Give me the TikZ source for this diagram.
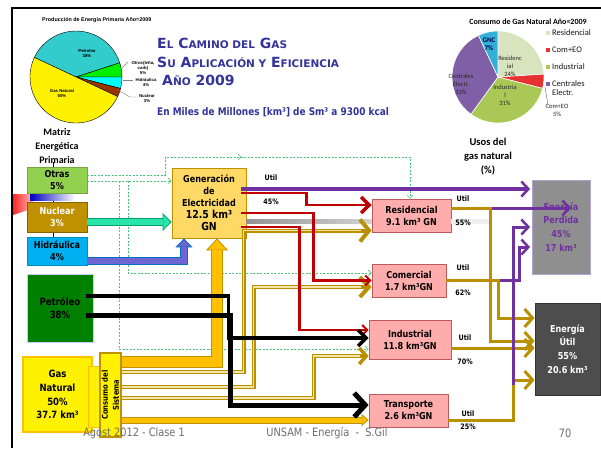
\documentclass[tikz,border=0pt]{standalone}
\usepackage{fontspec}
\setmainfont{DejaVu Sans}[FakeStretch=0.85]
\newfontfamily\ttlfont{DejaVu Sans}
\newfontfamily\calfont{Carlito}
\newfontfamily\arlfont{Liberation Sans}
\usetikzlibrary{arrows.meta,decorations.markings}

\definecolor{ttlblue}{RGB}{51,51,153}
\definecolor{otrc}{RGB}{146,208,80}
\definecolor{nucc}{RGB}{191,144,0}
\definecolor{hidfill}{RGB}{0,176,240}
\definecolor{petc}{RGB}{0,128,0}
\definecolor{genc}{RGB}{255,217,102}
\definecolor{pinkc}{RGB}{255,172,172}
\definecolor{pinkb}{RGB}{192,90,90}
\definecolor{perdc}{RGB}{143,143,143}
\definecolor{perdb}{RGB}{180,162,210}
\definecolor{utilc}{RGB}{77,77,77}
\definecolor{goldc}{RGB}{185,145,0}
\definecolor{goldl}{RGB}{242,228,170}
\definecolor{purp}{RGB}{112,48,160}
\definecolor{redc}{RGB}{192,0,0}
\definecolor{orangec}{RGB}{255,192,0}
\definecolor{orangeb}{RGB}{191,144,0}
\definecolor{mint}{RGB}{40,230,170}
\definecolor{mintd}{RGB}{0,160,110}
\definecolor{hidc}{RGB}{110,100,210}
\definecolor{hidb}{RGB}{0,112,192}
\definecolor{dashc}{RGB}{70,200,120}
\definecolor{footg}{RGB}{110,110,110}
\definecolor{pteal}{RGB}{51,204,204}
\definecolor{pgreen}{RGB}{0,238,0}
\definecolor{pcyan}{RGB}{0,255,255}
\definecolor{pbrown}{RGB}{153,51,0}
\definecolor{cres}{RGB}{215,228,189}
\definecolor{ccom}{RGB}{230,50,50}
\definecolor{cind}{RGB}{170,200,85}
\definecolor{ccen}{RGB}{127,95,165}
\definecolor{cgnc}{RGB}{51,175,216}

\newcommand\smc[1]{{\fontsize{10.5}{12}\selectfont #1}}

\begin{document}
\begin{tikzpicture}[x=1pt, y=-1pt,
  src/.style={draw, line width=0.8pt, inner sep=0pt, align=center,
              font=\fontsize{9.5}{12}\selectfont\bfseries},
  user/.style={draw=pinkb, fill=pinkc, line width=0.8pt, inner sep=0pt,
               align=center, font=\fontsize{9.5}{12}\selectfont\bfseries},
  sink/.style={line width=0.8pt, inner sep=0pt, align=center,
               font=\fontsize{9.5}{13.8}\selectfont\bfseries},
  lbl/.style={font=\fontsize{7.5}{9}\selectfont\bfseries, inner sep=0pt},
  pielbl/.style={font=\arlfont\fontsize{4.3}{5}\selectfont\bfseries, align=center, inner sep=0pt},
  callbl/.style={font=\calfont\fontsize{6.5}{8}\selectfont, align=center, inner sep=0pt, text=black!85},
  leg/.style={font=\calfont\fontsize{8.5}{9}\selectfont, anchor=west, inner sep=0pt, text=black!90, align=left},
  ttl/.style={font=\ttlfont\fontsize{14}{16}\selectfont\bfseries, text=ttlblue, inner sep=0pt, anchor=base west},
  otr/.style={draw=dashc, dash pattern=on 2pt off 1.5pt, line width=0.6pt,
              -{Straight Barb[length=3pt,width=6pt]}},
  gdbl/.style={draw=goldc, line width=4pt, line join=miter},
  gin/.style={draw=goldl, line width=1.4pt, line join=miter},
  gutil/.style={draw=goldc, line width=3pt, line join=miter,
                -{Straight Barb[length=8pt,width=18pt,line width=3pt]}},
  lost/.style={draw=purp, line width=3pt, line join=miter, shorten >=1.5pt,
               -{Straight Barb[length=7pt,width=15pt,line width=2.5pt]}},
  feed/.style={draw=redc, line width=2.5pt, line join=miter},
  oil/.style={draw=black, line width=3.5pt, line join=miter},
  foot/.style={font=\fontsize{11.5}{13}\selectfont, text=footg, inner sep=0pt},
]
\useasboundingbox (0,0) rectangle (601,448);
\fill[white] (0,0) rectangle (601,448);

% ---- slide frame ----
\draw[line width=2pt] (12,448) -- (12,8) -- (601,8);

% ---- title ----
\node[ttl] (t1) at (157,48) {E\smc{L} C\smc{AMINO DEL} G\smc{AS}};
\node[ttl] (t2) at (157,67) {S\smc{U} A\smc{PLICACIÓN Y} E\smc{FICIENCIA}};
\node[ttl] (t3) at (162,85) {A\smc{ÑO} 2009};
\node[font=\fontsize{10.5}{12}\selectfont\bfseries, text=ttlblue, inner sep=0pt, anchor=base west]
  (t4) at (157,115) {En Miles de Millones [km³] de Sm³ a 9300 kcal};

% ---- primary energy pie ----
\node[font=\arlfont\fontsize{5.4}{6}\selectfont\bfseries, anchor=west, inner sep=0pt]
  (pt1) at (42,20) {Producción de Energía Primaria Año=2009};
\begin{scope}[shift={(76,77)}, y=1pt, line width=0.4pt]
  \filldraw[fill=pteal] (0,0) -- (18:46) arc (18:154.8:46) -- cycle;
  \filldraw[fill=pgreen] (0,0) -- (0:46) arc (0:18:46) -- cycle;
  \filldraw[fill=pcyan] (0,0) -- (-14.4:46) arc (-14.4:0:46) -- cycle;
  \filldraw[fill=pbrown] (0,0) -- (-25.2:46) arc (-25.2:-14.4:46) -- cycle;
  \filldraw[fill=yellow] (0,0) -- (154.8:46) arc (154.8:334.8:46) -- cycle;
\end{scope}
\node[pielbl] (l1) at (87,53) {Petroleo\\38\%};
\node[pielbl] (l2) at (62,93) {Gas Natural\\50\%};
\node[pielbl] (l3) at (143,68) {Otros(leña,\\carb)\\5\%};
\node[pielbl] (l4) at (146,82) {Hidráulica\\4\%};
\node[pielbl] (l5) at (147,98) {Nuclear\\3\%};
\draw[gray, line width=0.4pt] (122,68) -- (128,62);
\draw[gray, line width=0.4pt] (123,80) -- (133,80);
\draw[gray, line width=0.4pt] (118,90) -- (130,97) -- (137,97);
\node[font=\calfont\fontsize{10}{13.8}\selectfont\bfseries, align=center, inner sep=0pt, text=black]
  (mtz) at (57,146) {Matriz\\Energética\\Primaria};

% ---- natural gas use pie ----
\node[font=\calfont\fontsize{8}{9}\selectfont\bfseries, inner sep=0pt]
  (pt2) at (528,22) {Consumo de Gas Natural Año=2009};
\begin{scope}[shift={(498,77)}, y=1pt, draw=white, line width=0.6pt]
  \filldraw[fill=cres] (0,0) -- (3.6:46) arc (3.6:90:46) -- cycle;
  \filldraw[fill=ccom] (0,0) -- (-14.4:46) arc (-14.4:3.6:46) -- cycle;
  \filldraw[fill=cind] (0,0) -- (-126:46) arc (-126:-14.4:46) -- cycle;
  \filldraw[fill=ccen] (0,0) -- (115.2:46) arc (115.2:234:46) -- cycle;
  \filldraw[fill=cgnc] (0,0) -- (90:46) arc (90:115.2:46) -- cycle;
\end{scope}
\node[callbl, font=\calfont\fontsize{7}{8}\selectfont\bfseries, text=blue!30!black] (g1) at (489,44) {GNC\\7\%};
\node[callbl] (g2) at (510,66) {Residenc\\ial\\24\%};
\node[callbl] (g3) at (505,95) {Industria\\l\\31\%};
\node[callbl] (g4) at (461,84) {Centrales\\Electr.\\33\%};
\node[callbl] (g5) at (557,110) {Com+EO\\5\%};
\draw[black!60, line width=0.4pt] (545,87) -- (548,105) -- (551,105);
\foreach \yy/\tt in {33/Residencial, 50/Com+EO, 67/Industrial}
  \node[leg] at (552,\yy) {\tt};
\foreach \yy/\cc in {33/cres, 50/ccom, 67/cind, 84/ccen}
  \fill[\cc] (546,\yy-2) rectangle (550,\yy+2);
\node[leg] (lg4) at (552,88) {Centrales\\Electr.};
\node[font=\calfont\fontsize{10.5}{14}\selectfont\bfseries, align=center, inner sep=0pt, text=black]
  (usos) at (488,157) {Usos del\\gas natural\\(\%)};

% ---- leftovers behind the source boxes ----
\draw[line width=0.6pt] (53,162) -- (53,240);
\shade[left color=red!85, right color=red!5] (13,194) -- (40,194) -- (28,210) -- (13,215) -- cycle;
\shade[left color=blue!75!black, right color=white] (30,193) rectangle (75,200);

% ---- primary sources ----
\node[src, fill=otrc, draw=otrc!80!black, minimum width=60pt, minimum height=26pt] (otras) at (57,180) {Otras\\5\%};
\node[src, fill=nucc, draw=nucc!70!black, text=white, minimum width=60pt, minimum height=30pt] (nuc) at (57,217) {Nuclear\\3\%};
\node[src, fill=hidfill, draw=hidfill!80!black, minimum width=60pt, minimum height=28pt] (hid) at (57,251) {Hidráulica\\4\%};
\node[src, fill=petc, draw=blue!20, minimum width=66pt, minimum height=68pt, font=\fontsize{10}{13}\selectfont\bfseries] (pet) at (60,308) {Petróleo\\38\%};
\node[src, fill=yellow, draw=orangec, line width=1.2pt, minimum width=69pt, minimum height=75pt, font=\fontsize{10}{13.7}\selectfont\bfseries] (gasn) at (57.5,394.5) {Gas\\Natural\\50\%\\37.7 km³};
\node[src, fill=yellow, draw=orangec, minimum width=12pt, minimum height=61pt] (gasx) at (94,396.5) {};
\node[src, fill=yellow, draw=orangeb, line width=1.2pt, minimum width=21pt, minimum height=84pt] (cons) at (110.5,395) {};
\node[rotate=90, align=center, inner sep=0pt, font=\fontsize{8}{11}\selectfont\bfseries] (consl) at (cons) {Consumo del\\Sistema};

% ---- generation and end users ----
\node[src, fill=genc, draw=orangeb, minimum width=74pt, minimum height=70pt] (gen) at (209,203)
  {Generación\\de\\Electricidad\\{\fontsize{11}{12}\selectfont 12.5 km³}\\{\fontsize{11}{12}\selectfont GN}};
\node[user, minimum width=79pt, minimum height=33pt] (res) at (411.5,215.5) {Residencial\\9.1 km³ GN};
\node[user, minimum width=74pt, minimum height=33pt] (com) at (409,280.5) {Comercial\\1.7 km³GN};
\node[user, minimum width=82pt, minimum height=39pt] (ind) at (410,339.5) {Industrial\\11.8 km³GN};
\node[user, minimum width=79pt, minimum height=33pt] (tra) at (408.5,410.5) {Transporte\\2.6 km³GN};
\node[sink, fill=perdc, draw=perdb, text=purp, minimum width=58pt, minimum height=94pt] (perd) at (561,227) {Energía\\Perdida\\45\%\\17 km³};
\node[sink, fill=utilc, draw=black!80, text=white, minimum width=65pt, minimum height=92pt] (util) at (567.5,349) {Energía\\Útil\\55\%\\20.6 km³};

% ---- Otras (dashed) ----
\draw[otr, postaction={decorate}, decoration={markings,
      mark=at position 0.45 with {\arrow{Straight Barb[length=3pt,width=6pt]}}}]
  ([yshift=5pt]otras.east) -- ++(78,0) -- ++(0,-18) -| ([xshift=-1.5pt]res.north);
\draw[otr] ([yshift=-1pt]otras.east) -- ([yshift=-1pt]otras.east -| gen.west);
\draw[otr] ([xshift=41pt,yshift=-1pt]otras.east) |- ([yshift=7.5pt]com.west);
\draw[otr] ([xshift=32pt,yshift=-1pt]otras.east) |- ([yshift=-9.5pt]ind.west);

% ---- gray loss line ----
\shade[left color=gray!85, right color=gray!35] ([yshift=-16pt]gen.east) rectangle ([yshift=-20.5pt]gen.east -| res.west);
\fill[gray!12] ([yshift=-3.5pt]res.east) rectangle ([xshift=40pt,yshift=-8pt]res.east);

% ---- Nuclear and Hidraulica into generation ----
\draw[draw=mintd, line width=8pt, -{Triangle[length=9pt,width=18pt,fill=mint,line width=0.8pt]}]
  ([yshift=-5pt]nuc.east) -- ([yshift=-5pt]nuc.east -| gen.west);
\draw[draw=mint, line width=6pt, shorten >=8.5pt]
  ([yshift=-5pt]nuc.east) -- ([yshift=-5pt]nuc.east -| gen.west);
\draw[draw=hidb, line width=8pt, line join=miter, -{Triangle[length=9pt,width=17pt,fill=hidc,line width=0.8pt]}]
  ([yshift=-10pt]hid.east) -| ([xshift=-25pt]gen.south);
\draw[draw=hidc, line width=6pt, line join=miter, shorten >=8.5pt]
  ([yshift=-10pt]hid.east) -| ([xshift=-25pt]gen.south);

% ---- gas from Consumo del Sistema ----
\draw[draw=orangeb, line width=12pt, line join=miter, -{Triangle[length=12pt,width=22pt,fill=orangec,line width=0.8pt]}]
  ([yshift=33pt]cons.east) -| ([xshift=8pt]gen.south);
\draw[draw=orangec, line width=10pt, line join=miter, shorten >=11.5pt]
  ([yshift=33pt]cons.east) -| ([xshift=8pt]gen.south);
\draw[draw=orangeb, line width=7pt, -{Triangle[length=7pt,width=12pt,fill=orangec,line width=0.8pt]}]
  ([yshift=-25pt]cons.east) -- ([yshift=-25pt]cons.east -| tra.west);
\draw[draw=orangec, line width=5pt, shorten >=6.5pt]
  ([yshift=-25pt]cons.east) -- ([yshift=-25pt]cons.east -| tra.west);

\draw[gdbl, -{Straight Barb[length=9pt,width=22pt,line width=4pt]}]
  ([yshift=23pt]cons.east) -- ++(122,0) |- ([yshift=-15pt]res.west);
\draw[gin, shorten >=11pt] ([yshift=23pt]cons.east) -- ++(122,0) |- ([yshift=-15pt]res.west);
\draw[gdbl, -{Straight Barb[length=9pt,width=20pt,line width=4pt]}]
  ([yshift=8pt]cons.east) -- ++(132,0) |- ([yshift=-6.5pt]com.west);
\draw[gin, shorten >=11pt] ([yshift=8pt]cons.east) -- ++(132,0) |- ([yshift=-6.5pt]com.west);
\draw[gdbl, -{Straight Barb[length=7pt,width=16pt,line width=3.5pt]}]
  ([yshift=-3pt]cons.east) -- ++(192,0) |- ([yshift=-16.5pt]ind.west);
\draw[gin, shorten >=9pt] ([yshift=-3pt]cons.east) -- ++(192,0) |- ([yshift=-16.5pt]ind.west);

% ---- electricity to users ----
\draw[feed, -{Straight Barb[length=8pt,width=16pt,line width=3.5pt]}]
  ([xshift=-5pt,yshift=10pt]gen.east) -- ++(65,0) |- ([yshift=10.5pt]res.west);
\draw[feed, -{Straight Barb[length=5pt,width=10pt,line width=2pt]}]
  ([xshift=-5pt,yshift=-10pt]gen.east) -- ++(72,0) |- (com.west);
\draw[feed, -{Straight Barb[length=5pt,width=10pt,line width=2pt]}]
  ([xshift=-5pt,yshift=-24pt]gen.east) -- ++(58,0) |- ([yshift=9.5pt]ind.west);

% ---- oil ----
\draw[oil, -{Straight Barb[length=8pt,width=16pt,line width=3.5pt]}]
  ([xshift=-7pt,yshift=12pt]pet.east) -- ++(142,0) |- ([yshift=1.5pt]ind.west);
\draw[oil, line width=5pt, -{Straight Barb[length=11pt,width=24pt,line width=5pt]}]
  ([xshift=-7pt,yshift=-7pt]pet.east) -- ++(144,0) |- ([yshift=5.5pt]tra.west);

% ---- useful energy ----
\draw[gutil] ([yshift=7.5pt]res.east) -- ++(39,0) |- ([yshift=8pt]util.west);
\draw[gutil] (com.east) -- ++(52,0) |- ([yshift=31pt]util.west);
\draw[gutil] ([yshift=-8.5pt]ind.east) -- ([yshift=-8.5pt]ind.east -| util.west);
\draw[gutil] ([yshift=-9.5pt]tra.east) -- ++(65,0) |- ([yshift=-31pt]util.west);

% ---- lost energy ----
\draw[lost, line width=4pt] ([xshift=-5pt,yshift=14pt]gen.east) -- ([yshift=14pt]gen.east -| perd.west);
\draw[lost] ([xshift=41pt,yshift=7.5pt]res.east) -- ([xshift=41pt,yshift=7.5pt]res.east -| perd.west);
\draw[lost] ([xshift=54pt]com.east) -- ++(19,0) |- ([yshift=-20pt]perd.west);
\draw[lost] ([xshift=65pt,yshift=25.5pt]tra.east) |- (perd.west);

% ---- efficiencies ----
\node[lbl] (u0) at (271,178) {Util};
\node[lbl] (p0) at (271,202) {45\%};
\node[lbl] (u1) at (463,199) {Util};
\node[lbl] (p1) at (463,223) {55\%};
\node[lbl] (u2) at (463,268) {Util};
\node[lbl] (p2) at (463,293) {62\%};
\node[lbl] (u3) at (465,338) {Util};
\node[lbl] (p3) at (465,362) {70\%};
\node[lbl] (u4) at (468,414) {Util};
\node[lbl] (p4) at (468,427) {25\%};

% ---- footer ----
\node[foot] (f1) at (134,433) {Agost 2012 - Clase 1};
\node[foot] (f2) at (327,433) {UNSAM - Energía \ - \ S.Gil};
\node[foot] (f3) at (565,433) {70};

\end{tikzpicture}
\end{document}
